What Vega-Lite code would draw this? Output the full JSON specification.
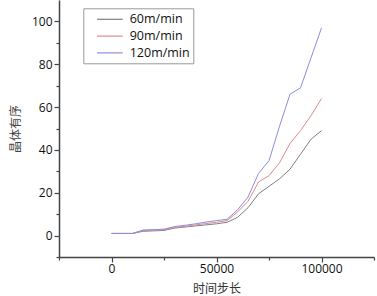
{
  "$schema": "https://vega.github.io/schema/vega-lite/v6.json",
  "width": 315,
  "height": 257,
  "autosize": {"type": "none"},
  "padding": {"left": 59, "top": 0, "right": 3, "bottom": 39},
  "config": {"view": {"stroke": null}, "font": "Open Sans"},
  "datasets": {
    "d": [
      {"s": "60m/min", "t": 0, "v": 1}, {"s": "60m/min", "t": 10000, "v": 1}, {"s": "60m/min", "t": 15000, "v": 2}, {"s": "60m/min", "t": 20000, "v": 2.2}, {"s": "60m/min", "t": 25000, "v": 2.4}, {"s": "60m/min", "t": 30000, "v": 3.5}, {"s": "60m/min", "t": 35000, "v": 4}, {"s": "60m/min", "t": 40000, "v": 4.5}, {"s": "60m/min", "t": 45000, "v": 5}, {"s": "60m/min", "t": 50000, "v": 5.5}, {"s": "60m/min", "t": 55000, "v": 6.2}, {"s": "60m/min", "t": 60000, "v": 8.5}, {"s": "60m/min", "t": 65000, "v": 13}, {"s": "60m/min", "t": 70000, "v": 19.5}, {"s": "60m/min", "t": 75000, "v": 23}, {"s": "60m/min", "t": 80000, "v": 26.5}, {"s": "60m/min", "t": 85000, "v": 31}, {"s": "60m/min", "t": 90000, "v": 38}, {"s": "60m/min", "t": 95000, "v": 45}, {"s": "60m/min", "t": 100000, "v": 49},
      {"s": "90m/min", "t": 0, "v": 1}, {"s": "90m/min", "t": 10000, "v": 1}, {"s": "90m/min", "t": 15000, "v": 2.3}, {"s": "90m/min", "t": 20000, "v": 2.5}, {"s": "90m/min", "t": 25000, "v": 2.7}, {"s": "90m/min", "t": 30000, "v": 3.8}, {"s": "90m/min", "t": 35000, "v": 4.3}, {"s": "90m/min", "t": 40000, "v": 5}, {"s": "90m/min", "t": 45000, "v": 5.6}, {"s": "90m/min", "t": 50000, "v": 6.2}, {"s": "90m/min", "t": 55000, "v": 7}, {"s": "90m/min", "t": 60000, "v": 11}, {"s": "90m/min", "t": 65000, "v": 16}, {"s": "90m/min", "t": 70000, "v": 25}, {"s": "90m/min", "t": 75000, "v": 28}, {"s": "90m/min", "t": 80000, "v": 34}, {"s": "90m/min", "t": 85000, "v": 43}, {"s": "90m/min", "t": 90000, "v": 49}, {"s": "90m/min", "t": 95000, "v": 56}, {"s": "90m/min", "t": 100000, "v": 64},
      {"s": "120m/min", "t": 0, "v": 1}, {"s": "120m/min", "t": 10000, "v": 1}, {"s": "120m/min", "t": 15000, "v": 2.6}, {"s": "120m/min", "t": 20000, "v": 2.8}, {"s": "120m/min", "t": 25000, "v": 3}, {"s": "120m/min", "t": 30000, "v": 4.2}, {"s": "120m/min", "t": 35000, "v": 4.8}, {"s": "120m/min", "t": 40000, "v": 5.5}, {"s": "120m/min", "t": 45000, "v": 6.3}, {"s": "120m/min", "t": 50000, "v": 7}, {"s": "120m/min", "t": 55000, "v": 7.6}, {"s": "120m/min", "t": 60000, "v": 12}, {"s": "120m/min", "t": 65000, "v": 18}, {"s": "120m/min", "t": 70000, "v": 29}, {"s": "120m/min", "t": 75000, "v": 35}, {"s": "120m/min", "t": 80000, "v": 51}, {"s": "120m/min", "t": 85000, "v": 66}, {"s": "120m/min", "t": 90000, "v": 69}, {"s": "120m/min", "t": 95000, "v": 83}, {"s": "120m/min", "t": 100000, "v": 97}
    ]
  },
  "data": {"name": "d"},
  "mark": {"type": "line", "strokeWidth": 1, "clip": true},
  "encoding": {
    "x": {
      "field": "t", "type": "quantitative",
      "scale": {"domain": [-25000, 125000], "nice": false, "zero": false},
      "axis": {
        "title": "时间步长", "titleFont": "Noto Sans CJK SC", "titleFontWeight": "normal", "titleFontSize": 12, "titleColor": "#333333", "titlePadding": 9,
        "values": [-25000, 0, 25000, 50000, 75000, 100000, 125000],
        "labelExpr": "datum.value % 50000 == 0 ? datum.label : ''",
        "format": "d",
        "grid": false, "domainColor": "#444444", "domainWidth": 1.5, "tickColor": "#444444", "tickWidth": 1.2,
        "tickSize": {"condition": {"test": "datum.value % 50000 == 0", "value": 5}, "value": 3},
        "labelFontSize": 12, "labelColor": "#111111", "labelPadding": 1, "labelFlush": false
      }
    },
    "y": {
      "field": "v", "type": "quantitative",
      "scale": {"domain": [-10, 110], "nice": false, "zero": false},
      "axis": {
        "title": "晶体有序", "titleFont": "Noto Sans CJK SC", "titleFontWeight": "normal", "titleFontSize": 12, "titleColor": "#444444", "titlePadding": 9,
        "values": [-10, 0, 10, 20, 30, 40, 50, 60, 70, 80, 90, 100],
        "labelExpr": "datum.value % 20 == 0 ? datum.label : ''",
        "grid": false, "domainColor": "#444444", "domainWidth": 1.5, "tickColor": "#444444", "tickWidth": 1.2,
        "tickSize": {"condition": {"test": "datum.value % 20 == 0", "value": 5}, "value": 3},
        "labelFontSize": 12, "labelColor": "#111111", "labelPadding": 2
      }
    },
    "color": {
      "field": "s", "type": "nominal", "sort": ["60m/min", "90m/min", "120m/min"],
      "scale": {"domain": ["60m/min", "90m/min", "120m/min"], "range": ["#808080", "#dc8c8c", "#8c8ce0"]},
      "legend": {
        "title": null, "orient": "none", "legendX": 24.3, "legendY": 8.3,
        "symbolType": "M0.39,0H4.06", "symbolSize": 196, "symbolStrokeWidth": 1.2,
        "labelFontSize": 12.5, "labelColor": "#111111", "labelOffset": 27.4,
        "strokeColor": "#999999", "padding": 3, "rowPadding": 1.8, "fillColor": "white"
      }
    }
  }
}
